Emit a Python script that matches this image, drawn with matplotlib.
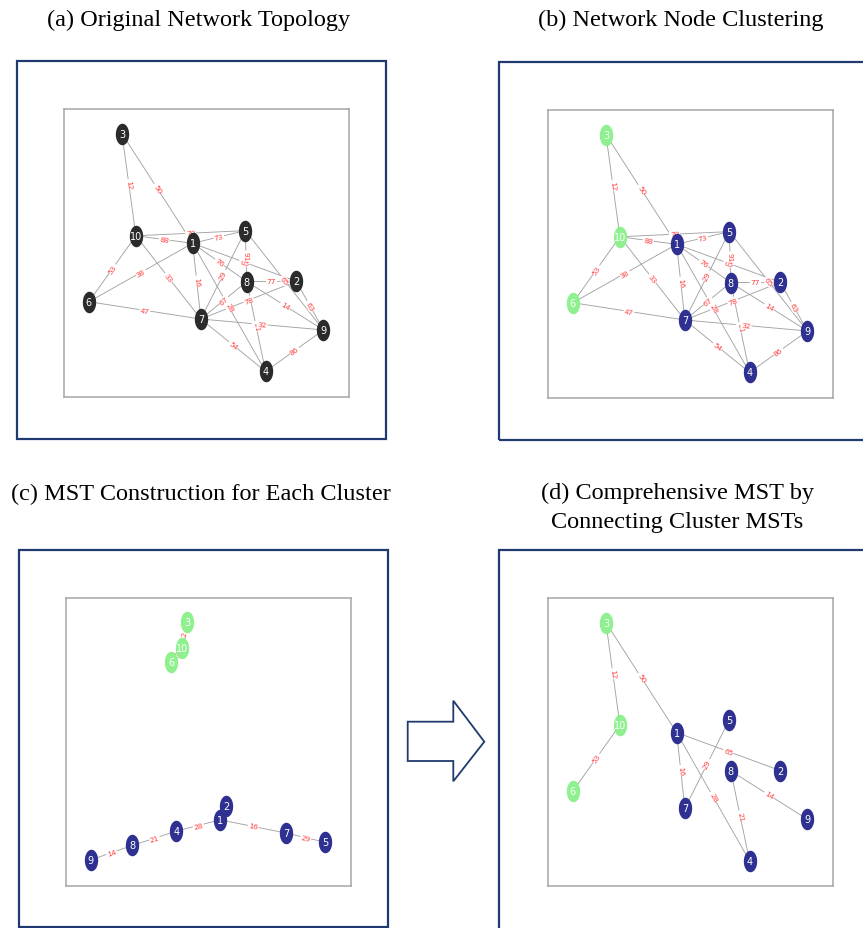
import math

import matplotlib

matplotlib.use("Agg")
import matplotlib.pyplot as plt
import numpy as np
from matplotlib.patches import Polygon, Rectangle
from matplotlib.path import Path

# node ids and the two layouts (axes fractions)
NODES = [1, 2, 3, 4, 5, 6, 7, 8, 9, 10]
LAYOUT_X = [0.453, 0.817, 0.205, 0.709, 0.638, 0.089, 0.482, 0.643, 0.912, 0.254]
LAYOUT_Y = [0.532, 0.400, 0.913, 0.087, 0.576, 0.329, 0.269, 0.399, 0.231, 0.558]
FOREST_X = [0.542, 0.564, 0.425, 0.388, 0.912, 0.369, 0.774, 0.233, 0.087, 0.408]
FOREST_Y = [0.228, 0.277, 0.915, 0.189, 0.150, 0.777, 0.182, 0.139, 0.089, 0.823]

# weighted edges of the original topology
EDGE_U = [3, 3, 10, 10, 1, 10, 10, 6, 6, 1, 1, 1, 1, 5, 5, 5, 8, 8, 8, 7, 8, 7, 7, 4, 2]
EDGE_V = [10, 1, 1, 5, 5, 6, 7, 1, 7, 7, 8, 2, 4, 7, 8, 9, 2, 9, 7, 2, 4, 9, 4, 9, 9]
EDGE_W = [12, 50, 88, 70, 73, 53, 33, 38, 47, 16, 76, 65, 28, 29, 91, 65, 77, 14, 67, 78, 21, 32, 54, 86, 63]

CLUSTER_GREEN = [3, 6, 10]
FOREST_EDGES = [(3, 10), (10, 6), (1, 2), (1, 4), (4, 8), (8, 9), (1, 7), (7, 5)]
MST_EDGES = [(3, 10), (3, 1), (10, 6), (1, 2), (1, 7), (1, 4), (5, 7), (8, 4), (8, 9)]

TITLES = [
    "(a) Original Network Topology",
    "(b) Network Node Clustering",
    "(c) MST Construction for Each Cluster",
    "(d) Comprehensive MST by\nConnecting Cluster MSTs",
]

W, H = 863, 929
DARK = "#2b2b2b"
BLUE = "#2e3191"
GREEN = "#8ef08e"
FRAME = "#1f3a6e"

t = np.linspace(0, 2 * np.pi, 80)
ELLIPSE = Path(np.column_stack([0.62 * np.cos(t), np.sin(t)]), closed=True)


def fig_box(x0, y0, x1, y1):
    return [x0 / W, 1 - y1 / H, (x1 - x0) / W, (y1 - y0) / H]


def weight(u, v):
    for a, b, w in zip(EDGE_U, EDGE_V, EDGE_W):
        if {a, b} == {u, v}:
            return w
    return None


def draw_graph(ax, xs, ys, edges, colors):
    pos = {n: (x, y) for n, x, y in zip(NODES, xs, ys)}
    ax.set_xlim(0, 1)
    ax.set_ylim(0, 1)
    ax.set_xticks([])
    ax.set_yticks([])
    for spine in ax.spines.values():
        spine.set_color("#a6a6a6")
        spine.set_linewidth(1.1)
    for u, v in edges:
        (x0, y0), (x1, y1) = pos[u], pos[v]
        ax.plot([x0, x1], [y0, y1], color="#a3a3a3", lw=0.65, zorder=1)
    for u, v in edges:
        (x0, y0), (x1, y1) = pos[u], pos[v]
        p0 = ax.transData.transform((x0, y0))
        p1 = ax.transData.transform((x1, y1))
        angle = math.degrees(math.atan2(p1[1] - p0[1], p1[0] - p0[0]))
        if angle > 90:
            angle -= 180
        elif angle < -90:
            angle += 180
        ax.text(
            (x0 + x1) / 2,
            (y0 + y1) / 2,
            str(weight(u, v)),
            color="#ff4040",
            fontsize=5.4,
            rotation=angle,
            rotation_mode="anchor",
            ha="center",
            va="center",
            zorder=2,
            bbox=dict(boxstyle="round,pad=0.1", fc="white", ec="none"),
        )
    for n in NODES:
        x, y = pos[n]
        ax.plot(
            x, y, marker=ELLIPSE, markersize=15.5, color=colors[n],
            markeredgecolor="none", linestyle="none", zorder=3,
        )
        ax.text(x, y, str(n), color="white", fontsize=7, ha="center",
                va="center", zorder=4)


fig = plt.figure(figsize=(W / 100, H / 100), dpi=100)

# outer frames
for x0, y0, x1, y1 in [(17, 62, 386, 440), (499, 63, 875, 441),
                       (19, 551, 388, 927.5), (499, 551, 875, 935)]:
    fig.patches.append(
        Rectangle((x0 / W, 1 - y1 / H), (x1 - x0) / W, (y1 - y0) / H,
                  transform=fig.transFigure, fill=False, ec=FRAME, lw=1.6)
    )

dark = {n: DARK for n in NODES}
clustered = {n: (GREEN if n in CLUSTER_GREEN else BLUE) for n in NODES}
all_edges = list(zip(EDGE_U, EDGE_V))

ax_a = fig.add_axes(fig_box(63.5, 109.5, 348.5, 397.5))
draw_graph(ax_a, LAYOUT_X, LAYOUT_Y, all_edges, dark)
ax_b = fig.add_axes(fig_box(547.5, 110.5, 832.5, 398.5))
draw_graph(ax_b, LAYOUT_X, LAYOUT_Y, all_edges, clustered)
ax_c = fig.add_axes(fig_box(66, 598.5, 350.5, 886.5))
draw_graph(ax_c, FOREST_X, FOREST_Y, FOREST_EDGES, clustered)
ax_d = fig.add_axes(fig_box(547.5, 598.5, 832.5, 887))
draw_graph(ax_d, LAYOUT_X, LAYOUT_Y, MST_EDGES, clustered)

# arrow between (c) and (d)
arrow = [(407.7, 722.7), (453.3, 722.7), (453.3, 701.7), (484.3, 742.7),
         (453.3, 782.3), (453.3, 762.0), (407.7, 762.0)]
fig.patches.append(
    Polygon([(x / W, 1 - y / H) for x, y in arrow], closed=True,
            transform=fig.transFigure, fc="white", ec=FRAME, lw=1.3)
)

title_font = dict(family="Liberation Serif", fontsize=17.5, ha="center",
                  va="center", multialignment="center", linespacing=1.45)
for text, (x, y) in zip(TITLES, [(199, 20), (681, 20), (201, 494), (677, 508)]):
    fig.text(x / W, 1 - y / H, text, **title_font)

fig.savefig("out.png", dpi=100)
plt.close(fig)
